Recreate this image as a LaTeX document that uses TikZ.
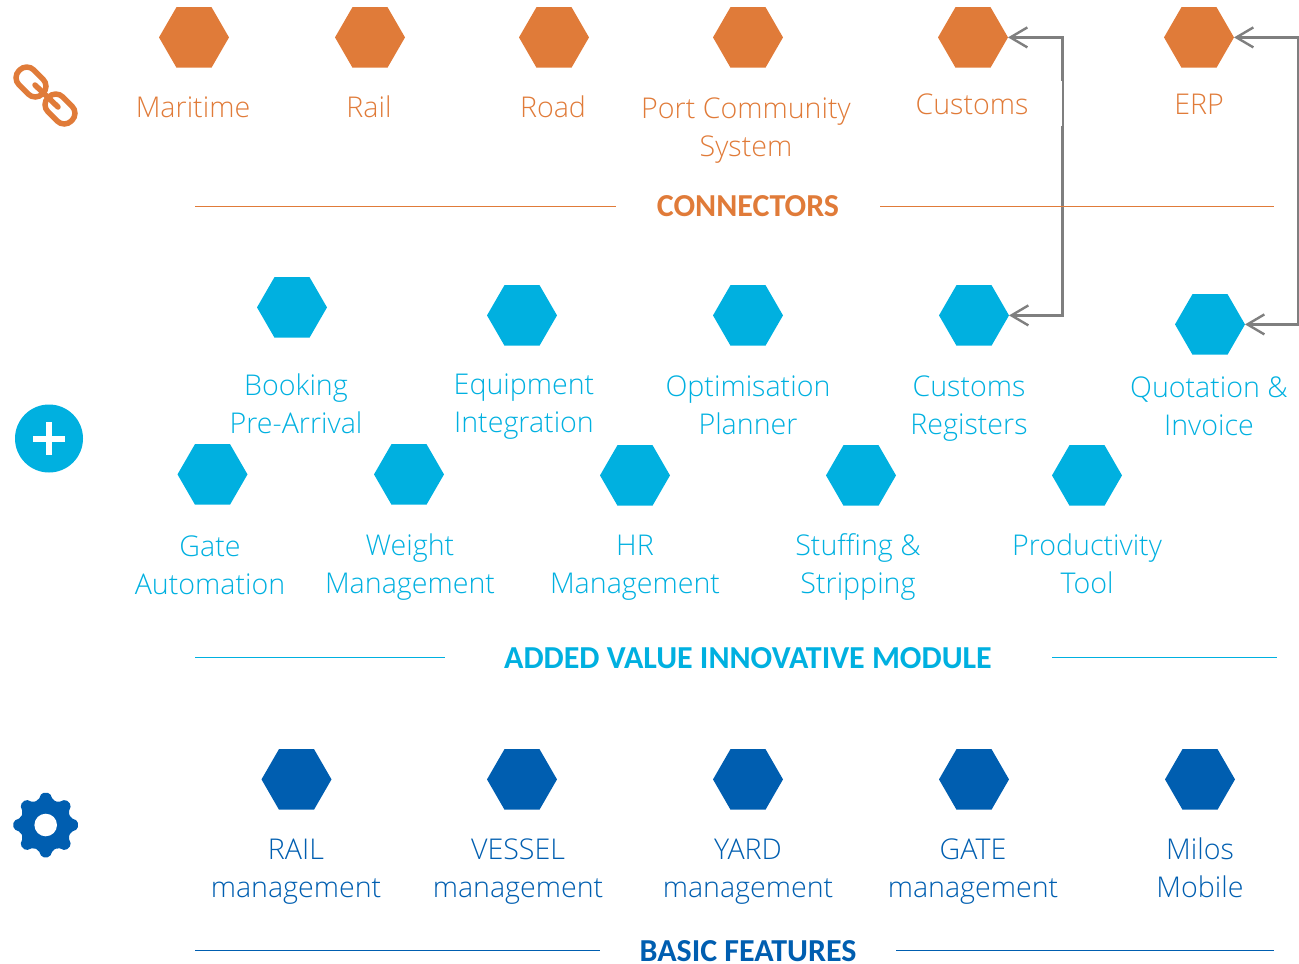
\documentclass[tikz,border=0pt]{standalone}
\usepackage{fontspec}
\setmainfont{Open Sans Light}
\newfontfamily\titlefont{Carlito}
\usetikzlibrary{shapes.geometric,arrows.meta}
\definecolor{orangeC}{HTML}{E07B39}
\definecolor{blueC}{HTML}{00B0E0}
\definecolor{navyC}{HTML}{005EB0}
\definecolor{grayC}{HTML}{7F7F7F}
\newcommand\stT{\rule{0pt}{27.5pt}}
\newcommand\stB{\rule[-7pt]{0pt}{7pt}}
\tikzset{
  hexa/.style={regular polygon,regular polygon sides=6,minimum size=70pt,inner sep=0pt,outer sep=0pt,fill=#1},
  lab/.style={text=#1,align=center,inner sep=0pt,font=\fontsize{28.6}{38.5}\selectfont},
  ttl/.style={text=#1,inner sep=0pt,font=\titlefont\bfseries\fontsize{32}{36}\selectfont},
  ruleO/.style={color=orangeC,line width=1pt},
  ruleB/.style={color=blueC,line width=1pt},
  ruleN/.style={color=navyC,line width=1pt},
  conn/.style={color=grayC,line width=2.4pt,{Straight Barb[length=17pt,width=20pt,line width=2.4pt]}-{Straight Barb[length=17pt,width=20pt,line width=2.4pt]}}
}
\begin{document}
\begin{tikzpicture}[x=1pt,y=-1pt]
\useasboundingbox (0,0) rectangle (1299,964);
% hexagons: connectors
\node[hexa=orangeC] (h1) at (194,37.4) {};
\node[hexa=orangeC] (h2) at (370,37.4) {};
\node[hexa=orangeC] (h3) at (554,37.4) {};
\node[hexa=orangeC] (h4) at (748,37.4) {};
\node[hexa=orangeC] (h5) at (973,37.4) {};
\node[hexa=orangeC] (h6) at (1199,37.4) {};
% hexagons: modules
\node[hexa=blueC] (m1) at (292,307.4) {};
\node[hexa=blueC] (m2) at (522,315.4) {};
\node[hexa=blueC] (m3) at (748,315.4) {};
\node[hexa=blueC] (m4) at (974,315.4) {};
\node[hexa=blueC] (m5) at (1210,324.4) {};
\node[hexa=blueC] (n1) at (212.5,474.4) {};
\node[hexa=blueC] (n2) at (409,474.4) {};
\node[hexa=blueC] (n3) at (635,475.4) {};
\node[hexa=blueC] (n4) at (861,475.4) {};
\node[hexa=blueC] (n5) at (1087,475.4) {};
% hexagons: basic
\node[hexa=navyC] (b1) at (296.5,779.4) {};
\node[hexa=navyC] (b2) at (522,779.4) {};
\node[hexa=navyC] (b3) at (748,779.4) {};
\node[hexa=navyC] (b4) at (974,779.4) {};
\node[hexa=navyC] (b5) at (1200,779.4) {};
% connectors
\coordinate (ca) at (1062.3,37.4);
\coordinate (cb) at (1298,37.4);
\draw[conn] (h5.east) -- (ca) -- (ca |- m4.east) -- (m4.east);
\draw[conn] (h6.east) -- (cb) -- (cb |- m5.east) -- (m5.east);
\fill[white] (1060,81) rectangle (1062,126);
% labels
\node[lab=orangeC] (t1) at (193,107) {\stT Maritime\stB};
\node[lab=orangeC] (t2) at (369,107) {\stT Rail\stB};
\node[lab=orangeC] (t3) at (553,107) {\stT Road\stB};
\node[lab=orangeC] (t4) at (746,127) {\stT Port Community\\System\stB};
\node[lab=orangeC] (t5) at (972,104) {\stT Customs\stB};
\node[lab=orangeC] (t6) at (1199,104) {\stT ERP\stB};
\node[lab=blueC] (u1) at (296,404) {\stT Booking\\Pre-Arrival\stB};
\node[lab=blueC] (u2) at (524,403) {\stT Equipment\\Integration\stB};
\node[lab=blueC] (u3) at (748,405) {\stT Optimisation\\Planner\stB};
\node[lab=blueC] (u4) at (969,405) {\stT Customs\\Registers\stB};
\node[lab=blueC] (u5) at (1209,406) {\stT Quotation \&\\Invoice\stB};
\node[lab=blueC] (v1) at (210,565) {\stT Gate\\Automation\stB};
\node[lab=blueC] (v2) at (410,564) {\stT Weight\\Management\stB};
\node[lab=blueC] (v3) at (635,564) {\stT HR\\Management\stB};
\node[lab=blueC] (v4) at (858,564) {\stT Stuffing \&\\Stripping\stB};
\node[lab=blueC] (v5) at (1087,564) {\stT Productivity\\Tool\stB};
\node[lab=navyC] (w1) at (296,868.3) {\stT RAIL\\management\stB};
\node[lab=navyC] (w2) at (518,868.3) {\stT VESSEL\\management\stB};
\node[lab=navyC] (w3) at (748,868.3) {\stT YARD\\management\stB};
\node[lab=navyC] (w4) at (973,868.3) {\stT GATE\\management\stB};
\node[lab=navyC] (w5) at (1200,868.3) {\stT Milos\\Mobile\stB};
% titles and rules
\node[ttl=orangeC] (s1) at (748,206) {CONNECTORS};
\node[ttl=blueC] (s2) at (748,658) {ADDED VALUE INNOVATIVE MODULE};
\node[ttl=navyC] (s3) at (748,951) {BASIC FEATURES};
\draw[ruleO] (195,206.5) -- (616,206.5) (880,206.5) -- (1274,206.5);
\draw[ruleB] (195,657.5) -- (445,657.5) (1052,657.5) -- (1277,657.5);
\draw[ruleN] (195,950.5) -- (600,950.5) (896,950.5) -- (1274,950.5);
% chain icon
\begin{scope}[color=orangeC,line width=5.5pt]
\draw[rounded corners=10pt,rotate around={-45:(31,82)}] (14.5,71.5) rectangle (47.5,92.5);
\draw[rounded corners=10pt,rotate around={-45:(60,109)}] (43.5,98.5) rectangle (76.5,119.5);
\draw[line cap=round] (35,85) -- (58,107);
\end{scope}
% plus icon
\fill[blueC] (49,438.5) circle (34);
\fill[white] (33,435.5) rectangle (65,441.5);
\fill[white] (46,422) rectangle (52,455);
% gear icon
\begin{scope}[shift={(45.7,825)}]
\fill[navyC,rounded corners=2pt]
  (-7:32.5) -- (7:32.5) -- (16:26) -- (29:26) -- (38:32.5) -- (52:32.5) -- (61:26) -- (74:26)
  -- (83:32.5) -- (97:32.5) -- (106:26) -- (119:26) -- (128:32.5) -- (142:32.5) -- (151:26) -- (164:26)
  -- (173:32.5) -- (187:32.5) -- (196:26) -- (209:26) -- (218:32.5) -- (232:32.5) -- (241:26) -- (254:26)
  -- (263:32.5) -- (277:32.5) -- (286:26) -- (299:26) -- (308:32.5) -- (322:32.5) -- (331:26) -- (344:26) -- cycle;
\fill[white] (0,0) circle (11.3);
\end{scope}
\end{tikzpicture}
\end{document}
